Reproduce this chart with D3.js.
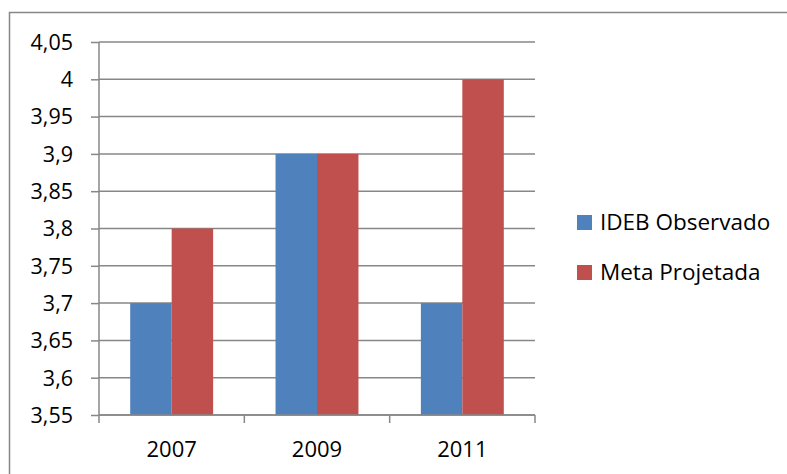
<!DOCTYPE html>
<html>
<head>
<meta charset="utf-8">
<script src="https://cdn.jsdelivr.net/npm/d3@7"></script>
<style>
  body { margin: 0; background: #fff; }
  svg text { font-family: "Open Sans", Lato, sans-serif; fill: #000; }
</style>
</head>
<body>
<svg id="chart" width="787" height="474"></svg>
<script>
var years = ["2007", "2009", "2011"]
var series = ["IDEB Observado", "Meta Projetada"]
var ideb = [3.7, 3.9, 3.7]
var meta = [3.8, 3.9, 4.0]
var yTicks = [3.55, 3.6, 3.65, 3.7, 3.75, 3.8, 3.85, 3.9, 3.95, 4, 4.05]
var colors = ["#4F81BD", "#C0504D"]

var margin = { top: 42, left: 99 }
var width = 436, height = 373
var svg = d3.select("#chart")

// outer frame (runs off the right and bottom of the image)
svg.append("rect")
    .attr("x", 9.5).attr("y", 12.5)
    .attr("width", 800).attr("height", 500)
    .attr("fill", "none").attr("stroke", "#878787").attr("stroke-width", 1.5)

var g = svg.append("g").attr("transform", "translate(" + margin.left + "," + margin.top + ")")

var x = d3.scaleBand().domain(years).range([0, width])
var xs = d3.scaleBand().domain(series).range([31.2, x.bandwidth() - 31.2])
var y = d3.scaleLinear().domain([3.55, 4.05]).range([height, 0])

var fmt = d => String(d).replace(".", ",")

// gridlines
g.selectAll(".grid").data(yTicks).enter().append("line")
    .attr("x1", 0).attr("x2", width)
    .attr("y1", d => y(d)).attr("y2", d => y(d))
    .attr("stroke", "#878787").attr("stroke-width", 1.5)

var rows = years.map((yr, i) => ({ year: yr, vals: [ideb[i], meta[i]] }))
var grp = g.selectAll(".grp").data(rows).enter().append("g")
    .attr("transform", d => "translate(" + x(d.year) + ",0)")
grp.selectAll("rect").data(d => d.vals.map((v, j) => ({ s: series[j], v: v, c: colors[j] })))
    .enter().append("rect")
    .attr("x", d => xs(d.s))
    .attr("width", xs.bandwidth())
    .attr("y", d => y(d.v))
    .attr("height", d => height - y(d.v))
    .attr("fill", d => d.c)

// y axis
var ya = g.append("g").call(d3.axisLeft(y).tickValues(yTicks).tickFormat(fmt).tickSize(8).tickPadding(18))
ya.select(".domain").attr("stroke", "#878787").attr("stroke-width", 1.5).attr("d", "M0," + height + "V0")
ya.selectAll(".tick line").attr("stroke", "#878787").attr("stroke-width", 1.5)
ya.selectAll("text").attr("font-size", 21.5).attr("font-family", "Open Sans").attr("dy", "0.34em")

// x axis
var xa = g.append("g").attr("transform", "translate(0," + height + ")")
    .call(d3.axisBottom(x).tickSize(0).tickPadding(0))
xa.select(".domain").remove()
xa.selectAll("text").attr("font-size", 22).attr("font-family", "Open Sans").attr("dy", 0).attr("y", 42)
// category separators
xa.selectAll(".sep").data(d3.range(years.length + 1)).enter().append("line")
    .attr("x1", i => i * x.step()).attr("x2", i => i * x.step())
    .attr("y1", 0).attr("y2", 8)
    .attr("stroke", "#878787").attr("stroke-width", 1.5)
xa.append("line").attr("x1", 0).attr("x2", width).attr("y1", 0).attr("y2", 0)
    .attr("stroke", "#878787").attr("stroke-width", 1.5)

// legend
var leg = svg.selectAll(".leg").data(series).enter().append("g")
    .attr("transform", (d, i) => "translate(577," + (215 + i * 50) + ")")
leg.append("rect").attr("width", 15).attr("height", 15).attr("fill", (d, i) => colors[i])
leg.append("text").attr("x", 23).attr("y", 15).attr("font-size", 22.5).text(d => d)
</script>
</body>
</html>
